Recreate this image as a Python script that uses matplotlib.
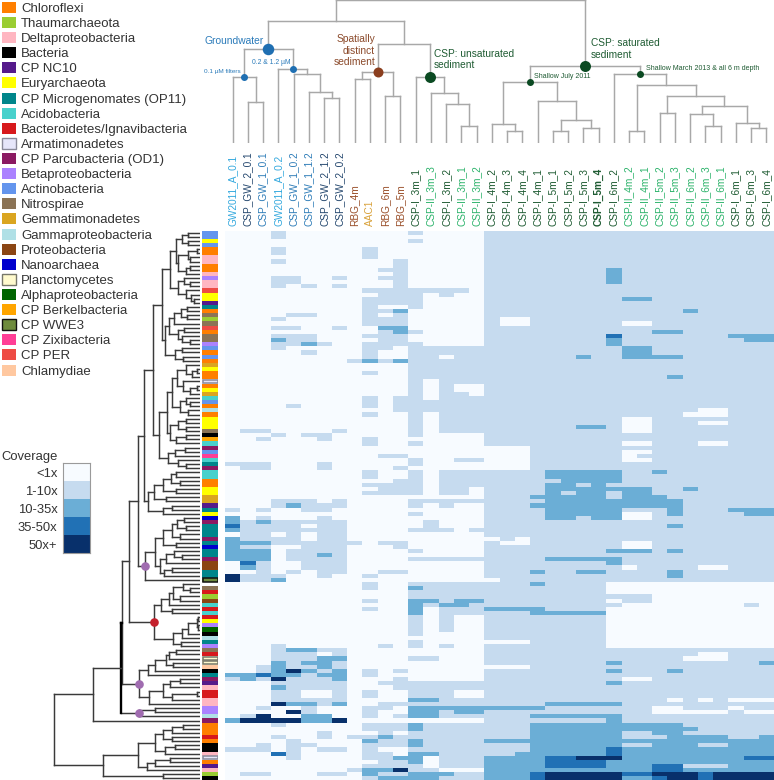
import numpy as np
import matplotlib
matplotlib.use("Agg")
import matplotlib.pyplot as plt
from matplotlib.colors import ListedColormap, BoundaryNorm
from matplotlib.patches import Rectangle

plt.rcParams['font.family'] = ['Liberation Sans', 'DejaVu Sans']

W, H = 774, 780

# taxa legend
TAXA = ["Chloroflexi", "Thaumarchaeota", "Deltaproteobacteria", "Bacteria", "CP NC10",
        "Euryarchaeota", "CP Microgenomates (OP11)", "Acidobacteria",
        "Bacteroidetes/Ignavibacteria", "Armatimonadetes", "CP Parcubacteria (OD1)",
        "Betaproteobacteria", "Actinobacteria", "Nitrospirae", "Gemmatimonadetes",
        "Gammaproteobacteria", "Proteobacteria", "Nanoarchaea", "Planctomycetes",
        "Alphaproteobacteria", "CP Berkelbacteria", "CP WWE3", "CP Zixibacteria",
        "CP PER", "Chlamydiae"]
TAXA_COLORS = ["#FF7F00", "#9ACD32", "#FFB6C1", "#000000", "#551A8B",
               "#FFFF00", "#00868B", "#48D1CC",
               "#D7191C", "#E6E6FA", "#8B1A62",
               "#AB82FF", "#6495ED", "#8B7355", "#DAA520",
               "#B0E0E6", "#8B4513", "#0000CD", "#FFFACD",
               "#006400", "#FFA500", "#6E8B3D", "#FF3E96",
               "#EE4B44", "#FFC8A0"]
TAXA_EDGES = {9: "#8a8a9a", 18: "#77776a", 21: "#111111"}

# taxon of every row, top to bottom (-1 = empty)
ROW_TAXA = [12, 12, 5, 12, 0, 0, 2, 2, 0, 0, 2, 11, 2, 2, 23, 5, 5, 4, 6, 0,
            13, 1, 13, 23, 0, 13, 13, 11, 12, 0, 12, 0, 14, 5, 0, 0, 9, 0, 5, 14,
            7, 12, 0, 15, 0, 5, 5, 5, 13, 3, 20, 7, 10, 12, 22, 7, 6, 10, 7, 7,
            0, 0, 5, 5, 14, 14, 4, 6, 5, 17, 10, 6, 6, 6, 10, 6, 17, 6, 6, 10,
            16, 16, 6, 6, 21, -1, 13, 8, 1, 16, 7, 8, 7, 8, 5, 11, 19, 3, 15, 6,
            11, 13, 8, 18, 18, 24, 3, 6, 10, 4, 2, 8, 8, 2, 2, 11, 11, 15, 10, 0,
            0, 0, 8, 0, 3, 3, 2, 9, 0, 4, 2, 1, 3]

SAMPLES = ["GW2011_A_0.1", "CSP_GW_2_0.1", "CSP_GW_1_0.1", "GW2011_A_0.2", "CSP_GW_1_0.2",
           "CSP_GW_1_1.2", "CSP_GW_2_1.2", "CSP_GW_2_0.2", "RBG_4m", "AAC1", "RBG_6m", "RBG_5m",
           "CSP-I_3m_1", "CSP-II_3m_3", "CSP-I_3m_2", "CSP-II_3m_1", "CSP-II_3m_2",
           "CSP-I_4m_2", "CSP-I_4m_3", "CSP-I_4m_4", "CSP-I_4m_1", "CSP-I_5m_1", "CSP-I_5m_2",
           "CSP-I_5m_3", "CSP-I_5m_4", "CSP-I_6m_2", "CSP-II_4m_2", "CSP-II_4m_1", "CSP-II_5m_2",
           "CSP-II_5m_3", "CSP-II_6m_2", "CSP-II_6m_3", "CSP-II_6m_1", "CSP-I_6m_1", "CSP-I_6m_3",
           "CSP-I_6m_4"]
LIGHT_BLUE, MID_BLUE, NAVY = "#35A9DE", "#2F7DB8", "#24476E"
BROWN, GOLD, DARK_GREEN, GREEN = "#9A4F2A", "#D9A23C", "#1E5B32", "#2DB36B"
SAMPLE_COLORS = [LIGHT_BLUE, NAVY, MID_BLUE, LIGHT_BLUE, MID_BLUE, MID_BLUE, NAVY, NAVY,
                 BROWN, GOLD, BROWN, BROWN,
                 DARK_GREEN, GREEN, DARK_GREEN, GREEN, GREEN] + [DARK_GREEN] * 9 + \
                [GREEN] * 7 + [DARK_GREEN] * 3

LEVELS = ["<1x", "1-10x", "10-35x", "35-50x", "50x+"]
LEVEL_COLORS = ["#F7FBFF", "#C6DBEF", "#6BAED6", "#2171B5", "#08306B"]

# coverage level per row, spaces only group the sample clusters
COVERAGE = """
00010000 0000 10000 111111111 1111111111
00010000 0000 00000 111111111 1111111111
00000000 0000 10000 111111111 1111111111
00000000 0000 00000 111111111 1111111111
00010000 0100 00000 111111111 1111111111
00010000 0100 00000 111111111 1111111111
00000000 0100 00000 111111111 1111111111
00010000 0001 00000 111111111 1111111111
00000000 0001 00000 111111111 1111111111
00000000 0011 00000 111111112 1111111111
00000000 0001 00000 111111112 1111111111
00011001 0011 00000 111111112 1111111111
00011000 0001 00000 111111112 1111111111
00010101 0001 00000 111111111 1111111111
00000000 0111 11110 111111111 1111111111
00000000 0011 10100 111111111 1111111111
00000000 0111 10000 111111111 2211111111
00000000 0111 10000 111111111 1111111111
00000000 0100 10000 111111111 1111111111
00000000 0112 00000 111111111 1111211111
00001100 0101 00000 111111111 1111111111
00010000 0111 00000 100111111 1111111111
00000000 0111 00000 100111111 0011111111
00011001 0022 00000 111111111 1111111111
00000000 0012 10000 111111111 1122111111
00011100 0111 00000 111111113 1111111222
00021100 0011 00000 111111112 1111111122
00011210 0111 10000 111111112 1111111111
00010000 0110 11111 111111111 2211111111
00000100 0100 11111 111111111 2211111111
00000000 0100 11011 111111211 2222111111
00000000 1212 11111 111111111 1111111111
00000000 0000 11111 111111111 1111111111
00000000 0000 11111 111111111 1111111111
00000000 0100 11111 111111111 1111111111
00000000 0000 11111 111111111 1112111111
00000000 0000 10111 111111111 1111111111
00000000 0000 10100 111111111 1111111111
00000000 0000 10100 111111111 1111111111
00000000 0000 10110 111111111 1111111111
00000000 0101 10111 111111111 1111111111
00000000 0101 11111 111111111 1111111111
00001000 0101 11111 111111111 1111111111
00000000 0001 11111 111111111 1111100111
00000000 0100 10111 111111111 1111000111
00000000 0000 10111 111111111 0011111111
00000000 0000 10111 111111111 0011100111
00000000 0000 10111 111111221 0011111111
01100001 0000 10111 111111111 0011111111
00010110 0000 10000 111111111 1111111111
00100010 0100 00000 111111111 1111111111
00000000 0100 10000 111111111 0011100111
00000000 0000 00000 000111111 1111111111
00000000 0000 00000 000111111 0011111111
00000000 0011 00000 000111111 0111111111
00000000 0000 10011 000111111 0011111111
11100010 0000 10000 000111111 1111111111
01100010 0001 00000 000111111 1111111111
00000000 0100 10111 111122222 1121111111
00000000 0100 10111 111122222 1111111111
00000000 0001 10111 111112222 1111111111
00000000 0111 10111 111122121 1111111111
00000000 0011 10110 111122222 2211211111
00000000 0111 10110 111121221 2211111111
00000000 0000 00000 111222221 2221111111
00011101 0000 11111 111122222 2222111111
00012111 0000 10100 111222222 2222111111
10100110 0000 00000 111122222 1112111222
00000000 0000 10000 111122222 0012111122
20100010 0000 00000 111122122 0011111111
21211111 0000 01000 111111111 1111111111
31111011 0000 01000 111111111 1112111111
21111111 0000 11101 111111111 1111111111
01101011 0000 00000 111111111 1111111111
21111011 0000 00000 010111111 1111111111
22211111 1011 00000 100111111 0011111111
21100111 0001 00000 111111111 0011111111
22201111 0000 10000 111111112 2212111111
22201121 0000 00000 111111111 1111111111
22201111 0000 11111 111122222 1111111111
03100111 0000 00000 111111112 1111111111
02100111 0000 00000 111111111 0111100111
00101011 0011 00000 111211221 1112111111
41110010 0100 00000 111111111 1112111111
41120000 0000 00000 011111111 1111111111
00000000 0100 11111 111211110 0000000000
00000000 0100 21111 111111110 0000000000
00000000 0000 11111 111111110 0000000000
00000000 0000 11111 111111111 1100000000
00000000 0100 22122 111111110 1100000000
00000000 0000 21221 111111111 0000000010
00000000 0100 20111 222211110 0000000000
00000000 0000 20111 111222220 0000000000
00000000 0000 10100 111111110 0000000000
00000000 0000 10100 111111110 0000000000
00000000 0000 10100 111111110 0000000000
00000000 0000 10100 111111110 0000000000
00000000 0000 10000 111111110 0000000000
00000000 0000 00000 111111110 0000000000
00000000 0000 10000 000111110 0000000000
00010000 0010 10100 111111110 0000000000
00012211 0000 00000 111111111 1111111111
00011101 0000 00000 111111111 1111100111
00011122 0000 11000 111111111 1111000111
00021221 0000 00000 111111112 1111111112
00121121 0000 00000 000111111 1111111111
00124212 0101 00000 111111112 1112111111
22322122 0100 00000 111111111 1111111111
12141112 0001 00000 111111111 0011111111
00011111 0011 11111 111111112 1111111111
00021111 0001 11111 111111111 1111111111
00011001 0100 11100 111111111 1111111111
00011001 0100 11100 111111111 1111111111
00011111 0000 22111 111111111 1110101000
00042212 0011 11111 111122222 1111111111
00100100 0110 22222 222211111 1100111011
00004100 0100 22122 111111111 1100000100
01400220 0101 22111 111222222 1111111111
24444224 0000 00000 111111112 1111111111
00010000 0111 21111 111222222 2222111111
00000000 0111 21111 111222222 2222211111
00000010 0010 11111 111222222 1122111111
00010010 1121 11111 111222222 1112222112
00001000 0211 21111 222222222 2222222222
00101100 0111 21111 111222222 1122211222
11101011 0100 11111 111222223 2222222222
00031000 0110 22111 112222223 2222222222
00001000 0112 20111 222233444 2222222233
00000000 0011 20111 222233332 2222222222
00000000 0111 10111 222233332 2233111222
00000000 1224 11000 222222222 2233222222
01100011 0211 22211 222344444 3344434444
00000000 0122 22111 222344444 2234434444
"""

# sample tree: [height, left, right, optional marker], 0 = leaf
SAMPLE_TREE = [143,
    [122,
        [94,
            [66, 0, [41, 0, 0], "gw_01"],
            [74, 0, [69, 0, [51, 0, [45, 0, 0]]], "gw_02"],
            "groundwater"],
        [99,
            [71, [64, 0, 0], [47, 0, 0], "spatial"],
            [66, 0, [50, 0, [39, 0, [17, 0, 0]]], "unsat"]]],
    [77,
        [61,
            [19, 0, [12, 0, 0]],
            [42, 0, [23, [12, 0, 0], [15, 0, 0]]],
            "july"],
        [69, 0,
            [58,
                [12, 0, 0],
                [47,
                    [30, 0, 0],
                    [37,
                        [29, 0, [17, 0, 0]],
                        [20, 0, [15, 0, 0]]]]],
            "march"],
        "sat"]]

# genome tree: [position along the x scale, top, bottom, optional marker], 0 = leaf
TREE_V = [161.7,
    [170,
        [175.7,
            [182, [188, 0, 0], [188, 0, 0]],
            [178, [188, [197, 0, 0], [190, 0, 0]], [186, [190, 0, 0], 0]]],
        [178, [184, 0, [190, 0, 0]], [186, 0, [191, 0, [194, 0, 0]]]]],
    [165,
        [169,
            [174, [181, [187, 0, 0], [187, 0, 0]], 0],
            [178, [184, 0, 0], [182, 0, [190, 0, 0]]]],
        [175, [182, 0, 0], [183, 0, 0]]]]
TREE_U = [159.3,
    [166.7,
        [171.7,
            [177, [186, 0, [192, [197, 0, 0], 0]], [183, 0, [190, [197, 0, 0], 0]]],
            [180, [186, 0, [190, 0, 0]], [188, 0, 0]]],
        [170, [178, [186, 0, 0], [186, 0, 0]], [176, [186, 0, 0], 0]]],
    [168, [175, [185, 0, 0], 0], [178, 0, [186, 0, 0]]]]
TREE_T = [148,
    [154, [163, [171, [176, 0, 0], [180, 0, 0]], [176, 0, 0]], [166, 0, 0]],
    [163, [172, 0, 0], 0]]
TREE_P1 = [145,
    [155,
        [163, [171.7, [177, [184, 0, 0], [186, 0, 0]], [180, 0, 0]], [176, 0, 0]],
        [160, [166, [174, 0, [182, 0, 0]], 0], [164, [172, 0, 0], 0]]],
    0, "purple"]
TREE_RED = [154,
    [160.7, [169, [173, [183, 0, [190, 0, 0]], [180, 0, 0]], 0], [172, 0, 0]],
    [173, [182, [188, [196.7, [198, 0, 0], [198, 0, 0]], 0], 0], [181, 0, 0]],
    "red"]
TREE_P3 = [139.3,
    [147.7,
        [155, [165.7, [169, [176, 0, 0], 0], [173, 0, 0]], 0],
        0],
    [149.3, [163.3, [170, [180, 0, 0], 0], [172, [196.7, 0, 0], 0]], 0],
    "purple"]
TREE_P4 = [139.3, [155, 0, 0], 0, "purple"]
TREE_LOW = [103,
    [137.7,
        [155,
            [163.3, [171.7, [183.3, 0, 0], 0], [172, 0, 0]],
            [165, [175, 0, 0], 0]],
        [146.7, [155, [170, 0, 0], 0], 0]],
    [163.3, 0, 0]]
GENOME_TREE = [54.5,
    [93,
        [120.7,
            [122,
                [129.3, [138, [144, [152.7, TREE_V, TREE_U], TREE_T], TREE_P1], TREE_RED],
                TREE_P3],
            TREE_P4, "thick"],
        0],
    TREE_LOW]


def axes_px(x0, y0, x1, y1):
    # axes from pixel box, y counted from the top of the picture
    return fig.add_axes([x0 / W, 1 - y1 / H, (x1 - x0) / W, (y1 - y0) / H])


def walk(node, leaf_val, counter, segs, marks):
    # returns (leaf-axis position, value axis position) of a node
    if node == 0:
        counter[0] += 1
        return counter[0] - 0.5, leaf_val
    val = node[0]
    p1, v1 = walk(node[1], leaf_val, counter, segs, marks)
    p2, v2 = walk(node[2], leaf_val, counter, segs, marks)
    tag = node[3] if len(node) > 3 else None
    thick = tag == "thick"
    segs.append((p1, v1, p1, val, thick))
    segs.append((p2, v2, p2, val, False))
    segs.append((p1, val, p2, val, thick))
    pos = (p1 + p2) / 2
    if tag:
        marks.append((tag, pos, val))
    return pos, val


fig = plt.figure(figsize=(W / 100, H / 100), dpi=100)

# heatmap
coverage = np.array([[int(c) for c in row.replace(" ", "")]
                     for row in COVERAGE.strip().splitlines()])
n_rows, n_cols = coverage.shape
cmap = ListedColormap(LEVEL_COLORS)
norm = BoundaryNorm(np.arange(-0.5, 5.5), 5)
ax = axes_px(225, 230.5, 774, 780.5)
ax.pcolormesh(np.arange(n_cols + 1), np.arange(n_rows + 1), coverage, cmap=cmap, norm=norm)
ax.set_ylim(n_rows, 0)
ax.axis("off")

# taxon strip
ax = axes_px(202.3, 230.5, 218.3, 780.5)
strip_cmap = ListedColormap(["#ffffff"] + TAXA_COLORS)
ax.pcolormesh([0, 1], np.arange(n_rows + 1), np.array(ROW_TAXA).reshape(-1, 1) + 1,
              cmap=strip_cmap, vmin=-0.5, vmax=len(TAXA) + 0.5)
for i, t in enumerate(ROW_TAXA):
    if t in TAXA_EDGES:
        ax.add_patch(Rectangle((0.02, i + 0.1), 0.96, 0.8, fill=False,
                               ec=TAXA_EDGES[t], lw=1.1))
ax.set_xlim(0, 1)
ax.set_ylim(n_rows, 0)
ax.axis("off")

# genome dendrogram
ax = axes_px(50, 230.5, 200, 780.5)
segs, marks = [], []
walk(GENOME_TREE, 200, [0], segs, marks)
for r1, x1, r2, x2, thick in segs:
    ax.plot([x1, x2], [r1, r2], color="#000000" if thick else "#3a3a3a",
            lw=1.7 if thick else 1.05, solid_capstyle="projecting")
for tag, r, x in marks:
    if tag in ("purple", "red"):
        ax.plot(x, r, "o", ms=6.2, mec="none", color="#A06CB0" if tag == "purple" else "#C4202C",
                zorder=5, clip_on=False)
ax.set_xlim(50, 200)
ax.set_ylim(n_rows, 0)
ax.axis("off")

# sample dendrogram
ax = axes_px(225, 0, 774, 142.7)
segs, marks = [], []
walk(SAMPLE_TREE, 0, [0], segs, marks)
for c1, h1, c2, h2, _ in segs:
    ax.plot([c1, c2], [h1, h2], color="#a8a8a8", lw=1.05, solid_capstyle="projecting")
NODE_STYLE = {"groundwater": ("#1F6FB2", 11.5), "gw_01": ("#1F6FB2", 7), "gw_02": ("#1F6FB2", 7),
              "spatial": ("#8B3E1E", 10), "unsat": ("#0B4A22", 11), "sat": ("#0B4A22", 11),
              "july": ("#0B4A22", 7), "march": ("#0B4A22", 7)}
for tag, c, h in marks:
    col, size = NODE_STYLE[tag]
    ax.plot(c, h, "o", color=col, ms=size / 1.389, mec="none", zorder=5, clip_on=False)
ax.set_xlim(0, n_cols)
ax.set_ylim(0, 142.7)
ax.axis("off")

# coverage key
ax = axes_px(63, 463, 89.5, 552.7)
ax.pcolormesh([0, 1], np.arange(6), np.arange(5).reshape(-1, 1), cmap=cmap, norm=norm)
ax.set_ylim(5, 0)
ax.set_xticks([])
ax.set_yticks([])
for s in ax.spines.values():
    s.set_color("#9a9a9a")
    s.set_linewidth(0.8)

# everything left is placed on a full picture layer in pixels
ov = fig.add_axes([0, 0, 1, 1])
ov.set_xlim(0, W)
ov.set_ylim(H, 0)
ov.axis("off")
ov.patch.set_alpha(0)

for i, name in enumerate(TAXA):
    y = 7.4 + i * 15.11
    edge = TAXA_EDGES.get(i)
    ov.add_patch(Rectangle((2, y - 5.5), 14, 11, fc=TAXA_COLORS[i],
                           ec=edge if edge else "none", lw=1.0))
    ov.text(21, y + 1.5, name, fontsize=9.5, color="#333333", va="center", ha="left")

ov.text(1, 457, "Coverage", fontsize=9.4, color="#333333", va="center", ha="left")
for i, lab in enumerate(LEVELS):
    ov.text(57.5, 474 + i * 18, lab, fontsize=9.4, color="#333333", va="center", ha="right")

for i, lab in enumerate(SAMPLES):
    ov.text(225 + 15.25 * (i + 0.5), 226.5, lab, rotation=90, fontsize=7.3, ha="center", va="bottom",
            color=SAMPLE_COLORS[i], fontweight="bold" if lab == "CSP-I_5m_4" else "normal")

ov.text(264, 41, "Groundwater", fontsize=7.4, color="#2B7BBA", ha="right", va="center")
ov.text(241, 71, "0.1 µM filters", fontsize=4.6, color="#2B7BBA", ha="right", va="center")
ov.text(290, 62, "0.2 & 1.2 µM", fontsize=4.9, color="#2B7BBA", ha="right", va="center")
for y, s in zip([39, 51, 62], ["Spatially", "distinct", "sediment"]):
    ov.text(375, y, s, fontsize=7.4, color="#8B4A2B", ha="right", va="center")
for y, s in zip([54, 65.5], ["CSP: unsaturated", "sediment"]):
    ov.text(434, y, s, fontsize=7.3, color="#1E5B32", ha="left", va="center")
for y, s in zip([43, 54.5], ["CSP: saturated", "sediment"]):
    ov.text(591, y, s, fontsize=7.3, color="#1E5B32", ha="left", va="center")
ov.text(533.5, 77, "Shallow July 2011", fontsize=5, color="#1E5B32", ha="left", va="center")
ov.text(646, 69, "Shallow March 2013 & all 6 m depth", fontsize=5, color="#1E5B32",
        ha="left", va="center")

fig.savefig("out.png", dpi=100)
